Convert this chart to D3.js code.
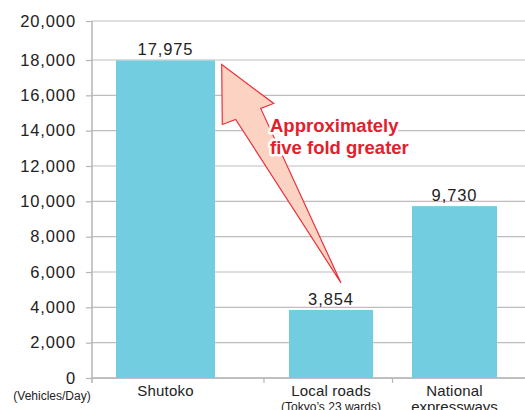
<!DOCTYPE html>
<html>
<head>
<meta charset="utf-8">
<script src="https://cdn.jsdelivr.net/npm/d3@7"></script>
<style>
  body { margin: 0; background: #fff; }
  svg { display: block; font-family: "Liberation Sans", Arial, Helvetica, sans-serif; }
</style>
</head>
<body>
<div id="chart"></div>
<script>
// chart data
var categories = ["Shutoko", "Local roads", "National"];
var subLabels = ["", "(Tokyo\u2019s 23 wards)", "expressways"];
var vehicles = [17975, 3854, 9730];
var yTicks = [0, 2000, 4000, 6000, 8000, 10000, 12000, 14000, 16000, 18000, 20000];
var unitLabel = "(Vehicles/Day)";
var noteLines = ["Approximately", "five fold greater"];

var svgWidth = 525, svgHeight = 410;

var svg = d3.select("#chart")
  .append("svg")
  .attr("width", svgWidth)
  .attr("height", svgHeight);

var axisX = 92, rightX = 525;

// y scale (top step in the source is a bit taller than the rest)
var yScale = d3.scaleLinear()
  .domain([0, 18000, 20000])
  .range([378, 60, 21]);

// category centres and bar widths
var xScale = d3.scaleOrdinal()
  .domain(categories)
  .range([165.5, 331, 454.5]);
var barWidth = d3.scaleOrdinal()
  .domain(categories)
  .range([99, 84, 85]);

// gridlines
svg.append("g")
  .selectAll("line")
  .data(yTicks)
  .enter()
  .append("line")
  .attr("x1", axisX)
  .attr("x2", rightX)
  .attr("y1", d => yScale(d))
  .attr("y2", d => yScale(d))
  .attr("stroke", "#bdbdbd")
  .attr("stroke-width", 1.2);

// y axis
var leftAxis = d3.axisLeft(yScale)
  .tickValues(yTicks)
  .tickFormat(d3.format(","))
  .tickSize(6)
  .tickSizeOuter(0)
  .tickPadding(10);

var yAxisG = svg.append("g")
  .attr("transform", `translate(${axisX},0)`)
  .call(leftAxis);

yAxisG.select(".domain").attr("stroke", "#b5b5b5").attr("stroke-width", 1.5)
  .attr("d", `M0,${yScale(20000)}V${yScale(0) + 5}`);
yAxisG.selectAll(".tick line").attr("stroke", "#b5b5b5").attr("stroke-width", 1.2);
yAxisG.selectAll(".tick text")
  .attr("fill", "#222")
  .attr("font-size", "16.5px")
  .attr("letter-spacing", "0.9px")
  .attr("font-family", "'Liberation Sans', Arial, sans-serif");

// x axis baseline + separators
svg.append("line")
  .attr("x1", axisX).attr("x2", rightX)
  .attr("y1", yScale(0)).attr("y2", yScale(0))
  .attr("stroke", "#b5b5b5").attr("stroke-width", 1.5);

var separators = [categories[0], categories[1]].map(function(c, i) {
  var a = xScale(categories[i]) + barWidth(categories[i]) / 2;
  var b = xScale(categories[i + 1]) - barWidth(categories[i + 1]) / 2;
  return i === 0 ? 264 : (a + b) / 2;
});
svg.selectAll(".sep")
  .data(separators)
  .enter()
  .append("line")
  .attr("class", "sep")
  .attr("x1", d => d).attr("x2", d => d)
  .attr("y1", yScale(0)).attr("y2", yScale(0) + 5)
  .attr("stroke", "#b5b5b5").attr("stroke-width", 1.2);

// bars
var data = categories.map((c, i) => ({ cat: c, value: vehicles[i], sub: subLabels[i] }));

svg.selectAll("rect.bar")
  .data(data)
  .enter()
  .append("rect")
  .attr("class", "bar")
  .attr("x", d => xScale(d.cat) - barWidth(d.cat) / 2)
  .attr("width", d => barWidth(d.cat))
  .attr("y", d => yScale(d.value))
  .attr("height", d => yScale(0) - yScale(d.value))
  .attr("fill", "#72cde1");

// value labels
svg.selectAll("text.val")
  .data(data)
  .enter()
  .append("text")
  .attr("class", "val")
  .attr("x", d => xScale(d.cat))
  .attr("y", d => yScale(d.value) - 5)
  .attr("text-anchor", "middle")
  .attr("font-size", "16.5px")
  .attr("letter-spacing", "0.9px")
  .attr("fill", "#222")
  .text(d => d3.format(",")(d.value));

// category labels
svg.selectAll("text.cat")
  .data(data)
  .enter()
  .append("text")
  .attr("class", "cat")
  .attr("x", d => xScale(d.cat))
  .attr("y", 396)
  .attr("text-anchor", "middle")
  .attr("font-size", "15px")
  .attr("letter-spacing", "0.2px")
  .attr("fill", "#222")
  .text(d => d.cat);

svg.selectAll("text.sub")
  .data(data.filter(d => d.sub))
  .enter()
  .append("text")
  .attr("class", "sub")
  .attr("x", d => xScale(d.cat))
  .attr("y", d => d.sub.charAt(0) === "(" ? 411 : 412)
  .attr("text-anchor", "middle")
  .attr("font-size", d => d.sub.charAt(0) === "(" ? "12px" : "15px")
  .attr("fill", "#222")
  .text(d => d.sub);

svg.append("text")
  .attr("x", 52)
  .attr("y", 400)
  .attr("text-anchor", "middle")
  .attr("font-size", "12px")
  .attr("fill", "#222")
  .text(unitLabel);

// arrow from local roads up to Shutoko
var tipX = xScale(categories[0]) + barWidth(categories[0]) / 2 + 6.7;
var tipY = yScale(vehicles[0]) + 4;
var tailX = xScale(categories[1]) + 10;
var tailY = yScale(vehicles[1]) - 27;

var arrowPts = [
  [tipX, tipY],
  [tipX + 52, tipY + 39],
  [tipX + 39, tipY + 44],
  [tailX, tailY],
  [tipX + 14, tipY + 55],
  [tipX + 0.6, tipY + 60]
];

svg.append("polygon")
  .attr("points", arrowPts.map(p => p.join(",")).join(" "))
  .attr("fill", "#fcd3c2")
  .attr("stroke", "#e8323c")
  .attr("stroke-width", 1.2)
  .attr("stroke-linejoin", "miter");

// annotation text
svg.append("g")
  .selectAll("text")
  .data(noteLines)
  .enter()
  .append("text")
  .attr("x", 270)
  .attr("y", (d, i) => 132 + i * 22)
  .attr("font-size", "18.5px")
  .attr("font-weight", "bold")
  .attr("fill", "#e3202c")
  .attr("stroke", "#fff")
  .attr("stroke-width", 5)
  .attr("stroke-linejoin", "round")
  .attr("paint-order", "stroke")
  .text(d => d);
</script>
</body>
</html>
